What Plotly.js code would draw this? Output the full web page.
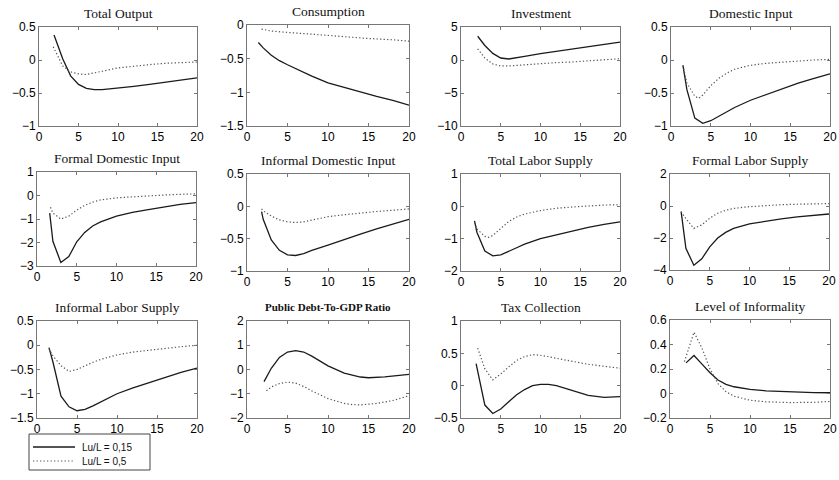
<!DOCTYPE html>
<html><head><meta charset="utf-8">
<script src="https://cdn.plot.ly/plotly-3.0.1.min.js"></script>
<style>html,body{margin:0;padding:0;background:#fff}#chart{width:839px;height:480px}</style>
</head><body><div id="chart"></div>
<script>
// ---------- data ----------
const titles = ["Total Output","Consumption","Investment","Domestic Input",
  "Formal Domestic Input","Informal Domestic Input","Total Labor Supply","Formal Labor Supply",
  "Informal Labor Supply","Public Debt-To-GDP Ratio","Tax Collection","Level of Informality"];
const seriesNames = ["Lu/L = 0,15","Lu/L = 0,5"];
const xTicks = [0,5,10,15,20];

// 1 Total Output
const outXs=[1.9,3,4,5,6,7,8,10,12,14,16,18,20];
const outYs=[0.38,0.02,-0.24,-0.37,-0.43,-0.45,-0.45,-0.43,-0.40,-0.37,-0.34,-0.30,-0.27];
const outXd=[1.8,3,4,5,6,7,8,10,12,14,16,18,20];
const outYd=[0.2,-0.09,-0.18,-0.21,-0.22,-0.20,-0.17,-0.12,-0.09,-0.07,-0.05,-0.04,-0.03];
// 2 Consumption
const conXs=[1.4,2,3,4,5,6,7,8,10,12,14,16,18,20];
const conYs=[-0.26,-0.34,-0.45,-0.53,-0.59,-0.65,-0.71,-0.76,-0.86,-0.93,-1.0,-1.06,-1.12,-1.19];
const conXd=[1.8,3,5,8,10,12,15,18,20];
const conYd=[-0.06,-0.09,-0.11,-0.14,-0.16,-0.17,-0.20,-0.22,-0.24];
// 3 Investment
const invXs=[2.1,3,4,5,6,7,8,10,12,14,16,18,20];
const invYs=[3.6,2.2,1.0,0.3,0.15,0.3,0.55,0.95,1.3,1.6,1.95,2.3,2.7];
const invXd=[2.1,3,4,5,6,7,8,10,12,14,16,18,20];
const invYd=[1.7,0.3,-0.6,-0.9,-0.9,-0.8,-0.7,-0.5,-0.4,-0.3,-0.15,0.0,0.2];
// 4 Domestic Input
const domXs=[1.5,2,3,4,5,6,7,8,10,12,14,16,18,20];
const domYs=[-0.08,-0.45,-0.88,-0.96,-0.92,-0.85,-0.78,-0.72,-0.61,-0.52,-0.43,-0.35,-0.28,-0.21];
const domXd=[1.5,2,3,3.5,4,5,6,7,8,10,12,14,16,18,20];
const domYd=[-0.08,-0.35,-0.55,-0.58,-0.53,-0.39,-0.28,-0.2,-0.14,-0.08,-0.05,-0.03,-0.01,0.0,0.01];
// 5 Formal Domestic Input
const fdiXs=[1.6,2,3,4,5,6,7,8,10,12,14,16,18,20];
const fdiYs=[-0.75,-1.95,-2.85,-2.6,-1.97,-1.57,-1.3,-1.12,-0.88,-0.72,-0.6,-0.48,-0.38,-0.3];
const fdiXd=[1.7,2,3,4,5,6,7,8,10,12,14,16,18,20];
const fdiYd=[-0.5,-0.75,-1.0,-0.88,-0.62,-0.42,-0.28,-0.19,-0.1,-0.05,-0.01,0.02,0.05,0.07];
// 6 Informal Domestic Input
const idiXs=[1.8,2,3,4,5,6,7,8,10,12,14,16,18,20];
const idiYs=[-0.08,-0.2,-0.52,-0.68,-0.75,-0.76,-0.73,-0.68,-0.6,-0.51,-0.43,-0.35,-0.28,-0.2];
const idiXd=[1.8,2,3,4,5,6,7,8,10,12,14,16,18,20];
const idiYd=[-0.04,-0.07,-0.15,-0.21,-0.24,-0.25,-0.24,-0.21,-0.16,-0.13,-0.1,-0.08,-0.06,-0.04];
// 7 Total Labor Supply
const tlsXs=[1.7,2,3,4,5,6,7,8,10,12,14,16,18,20];
const tlsYs=[-0.45,-0.8,-1.38,-1.53,-1.5,-1.4,-1.28,-1.17,-1.0,-0.88,-0.76,-0.65,-0.56,-0.48];
const tlsXd=[1.7,2,3,3.5,4,5,6,7,8,10,12,14,16,18,20];
const tlsYd=[-0.5,-0.7,-0.93,-0.96,-0.9,-0.68,-0.47,-0.33,-0.24,-0.13,-0.06,-0.02,0.02,0.04,0.05];
// 8 Formal Labor Supply
const flsXs=[1.4,2,3,4,5,6,7,8,10,12,14,16,18,20];
const flsYs=[-0.35,-2.65,-3.7,-3.3,-2.55,-2.0,-1.65,-1.4,-1.12,-0.95,-0.8,-0.68,-0.58,-0.5];
const flsXd=[1.4,2,3,4,5,6,7,8,10,12,14,16,18,20];
const flsYd=[-0.35,-0.8,-1.4,-1.18,-0.76,-0.45,-0.27,-0.15,-0.04,0.03,0.08,0.11,0.13,0.15];
// 9 Informal Labor Supply
const ilsXs=[1.5,2,3,4,5,6,7,8,10,12,14,16,18,20];
const ilsYs=[-0.05,-0.35,-1.05,-1.27,-1.35,-1.32,-1.25,-1.17,-1.0,-0.88,-0.77,-0.66,-0.56,-0.47];
const ilsXd=[1.5,2,3,4,5,6,7,8,10,12,14,16,18,20];
const ilsYd=[-0.07,-0.22,-0.42,-0.54,-0.5,-0.42,-0.35,-0.29,-0.2,-0.14,-0.1,-0.06,-0.03,0.0];
// 10 Public Debt-To-GDP Ratio
const debXs=[2.1,3,4,5,6,7,8,10,12,14,15,17,20];
const debYs=[-0.5,0.05,0.5,0.72,0.78,0.72,0.55,0.15,-0.15,-0.31,-0.34,-0.3,-0.2];
const debXd=[2.4,3,4,5,6,7,8,10,12,13,14,16,18,20];
const debYd=[-0.88,-0.72,-0.58,-0.52,-0.56,-0.7,-0.88,-1.2,-1.4,-1.45,-1.46,-1.4,-1.28,-1.08];
// 11 Tax Collection
const taxXs=[1.9,3,4,5,6,7,8,9,10,11,12,14,16,18,20];
const taxYs=[0.34,-0.3,-0.43,-0.36,-0.25,-0.14,-0.06,0.0,0.02,0.02,0.0,-0.08,-0.15,-0.18,-0.17];
const taxXd=[2.1,3,4,5,6,7,8,9,10,12,14,16,18,20];
const taxYd=[0.58,0.26,0.09,0.18,0.29,0.39,0.45,0.48,0.47,0.42,0.37,0.33,0.3,0.27];
// 12 Level of Informality
const infXs=[2,3,4,5,6,7,8,10,12,15,18,20];
const infYs=[0.25,0.31,0.24,0.17,0.11,0.075,0.055,0.033,0.022,0.012,0.007,0.006];
const infXd=[1.8,3,4,5,6,7,8,10,12,15,18,20];
const infYd=[0.26,0.5,0.37,0.2,0.08,0.015,-0.022,-0.055,-0.068,-0.074,-0.072,-0.065];

// y axis ranges and tick steps per panel
const yRanges=[[-1,0.5],[-1.5,0],[-10,5],[-1,0.5],[-3,1],[-1,0.5],[-2,1],[-4,2],[-1.5,0.5],[-2,2],[-0.5,1],[-0.2,0.6]];
const yDtick=[0.5,0.5,5,0.5,1,0.5,1,2,0.5,1,0.5,0.2];

// ---------- layout geometry (pixels) ----------
const W=839,H=480;
const boxes=[
 [39,197,27,126],[247,409,25,126],[461,620,27,126],[671,830,27,126],
 [37,196,172,266],[247,409,174,271],[461,620,174,271],[670,829,174,270],
 [37,197,321,418],[247,409,321,418],[461,620,321,418],[670,830,320,418]];

const solidX=[outXs,conXs,invXs,domXs,fdiXs,idiXs,tlsXs,flsXs,ilsXs,debXs,taxXs,infXs];
const solidY=[outYs,conYs,invYs,domYs,fdiYs,idiYs,tlsYs,flsYs,ilsYs,debYs,taxYs,infYs];
const dotX=[outXd,conXd,invXd,domXd,fdiXd,idiXd,tlsXd,flsXd,ilsXd,debXd,taxXd,infXd];
const dotY=[outYd,conYd,invYd,domYd,fdiYd,idiYd,tlsYd,flsYd,ilsYd,debYd,taxYd,infYd];

const solidStyle={color:'#1a1a1a',width:1.3};
const dotStyle={color:'#555',width:1.2,dash:'1.3px,2.2px'};

const traces=[];
const layout={width:W,height:H,margin:{l:0,r:0,t:0,b:0},paper_bgcolor:'#fff',plot_bgcolor:'#fff',
  showlegend:false,annotations:[],shapes:[]};

const tickFont={family:'Liberation Sans, Arial, sans-serif',size:12,color:'#000'};
for(let i=0;i<12;i++){
  const s=i===0?'':String(i+1);
  const b=boxes[i];
  traces.push({x:solidX[i],y:solidY[i],type:'scatter',mode:'lines',xaxis:'x'+s,yaxis:'y'+s,
    name:seriesNames[0],line:solidStyle});
  traces.push({x:dotX[i],y:dotY[i],type:'scatter',mode:'lines',xaxis:'x'+s,yaxis:'y'+s,
    name:seriesNames[1],line:dotStyle});
  const common={showline:true,linecolor:'#777',linewidth:1,mirror:'ticks',ticks:'inside',ticklen:3,
    tickcolor:'#777',showgrid:false,zeroline:false,tickfont:tickFont,fixedrange:true};
  layout['xaxis'+s]=Object.assign({},common,{domain:[b[0]/W,b[1]/W],range:[0,20],tickvals:xTicks,
    anchor:'y'+s});
  layout['yaxis'+s]=Object.assign({},common,{domain:[1-b[3]/H,1-b[2]/H],range:yRanges[i],
    dtick:yDtick[i],tick0:0,anchor:'x'+s});
  const isDebt=i===9;
  layout.annotations.push({text:isDebt?'<b>'+titles[i]+'</b>':titles[i],xref:'paper',yref:'paper',
    x:(b[0]+b[1])/2/W,y:1-b[2]/H,xanchor:'center',yanchor:'middle',yshift:14,showarrow:false,
    font:{family:'Liberation Serif, Times New Roman, serif',size:isDebt?11:13.5,color:'#111'}});
}

// ---------- legend box (drawn as shapes + text, compact like the reference) ----------
const lg={x0:29,x1:150,y0:434,y1:470,lineX0:33,lineX1:75,textX:80,row1:447,row2:461};
const px=v=>v/W, py=v=>1-v/H;
layout.shapes.push({type:'rect',xref:'paper',yref:'paper',x0:px(lg.x0),x1:px(lg.x1),y0:py(lg.y1),y1:py(lg.y0),
  line:{color:'#444',width:1},fillcolor:'#fff'});
[[lg.row1,solidStyle],[lg.row2,dotStyle]].forEach(function(r,k){
  layout.shapes.push({type:'line',xref:'paper',yref:'paper',x0:px(lg.lineX0),x1:px(lg.lineX1),
    y0:py(r[0]),y1:py(r[0]),line:r[1]});
  layout.annotations.push({text:seriesNames[k],xref:'paper',yref:'paper',x:px(lg.textX),y:py(r[0]),
    xanchor:'left',yanchor:'middle',showarrow:false,
    font:{family:'Liberation Sans, Arial, sans-serif',size:10,color:'#111'}});
});

Plotly.newPlot('chart',traces,layout,{displayModeBar:false,staticPlot:true});
</script></body></html>
